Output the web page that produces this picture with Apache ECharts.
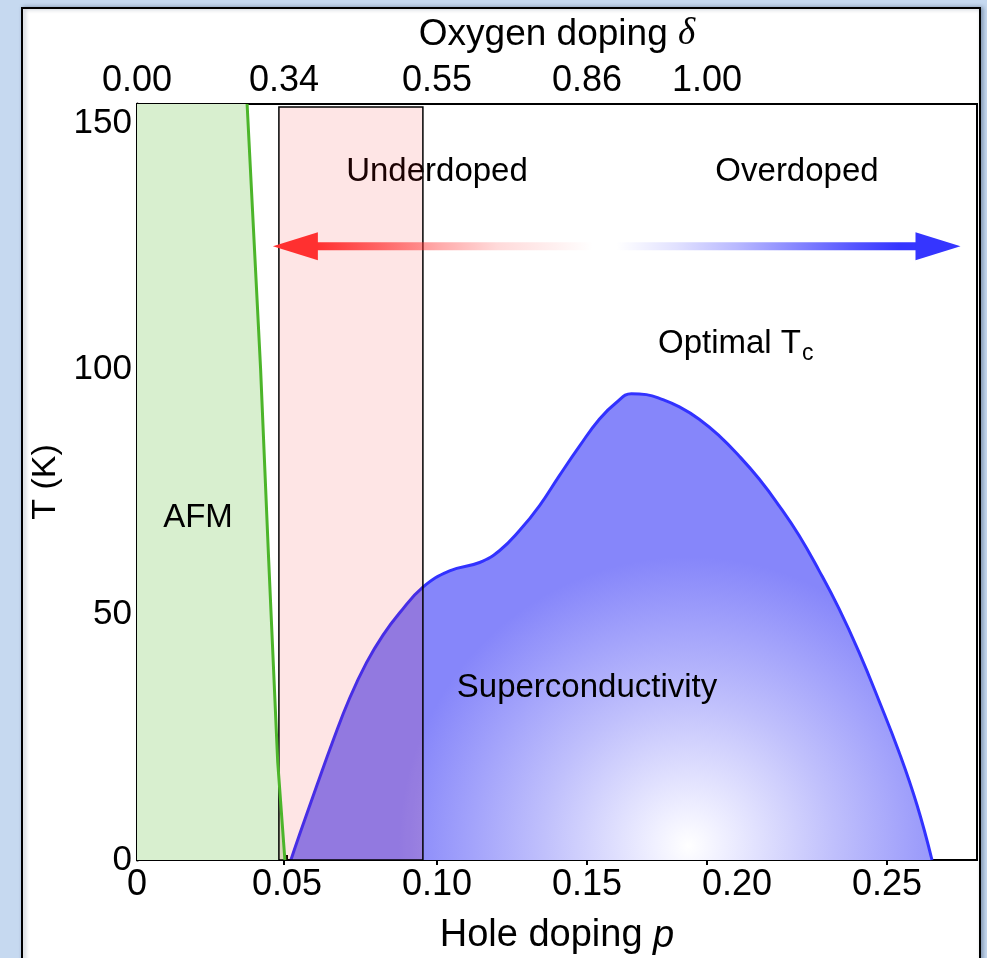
<!DOCTYPE html>
<html>
<head>
<meta charset="utf-8">
<script src="https://cdn.jsdelivr.net/npm/echarts@6/dist/echarts.min.js"></script>
<style>
  html, body { margin: 0; padding: 0; background: #c6d9f0; }
  #chart { width: 987px; height: 958px; }
</style>
</head>
<body>
<div id="chart"></div>
<script>
// Axis extents
const pMax = 0.28;
const tMax = 154;

// Bottom axis: hole doping p; left axis: temperature
const holeTicks = [0, 0.05, 0.10, 0.15, 0.20, 0.25];
const tempTicks = [0, 50, 100, 150];

// Top axis: oxygen doping delta, placed at the matching hole doping
const deltaLabels = ['0.00', '0.34', '0.55', '0.86', '1.00'];
const deltaAtP = [0, 0.049, 0.10, 0.15, 0.19];
const deltaTickP = [0.049, 0.10, 0.15, 0.19, 0.25];

// Superconducting dome Tc(p)
const domeP = [0.0513, 0.0543, 0.0598, 0.0654, 0.0709, 0.0765, 0.0820, 0.0875, 0.0953, 0.1042,
               0.1142, 0.1208, 0.1275, 0.1342, 0.1408, 0.1475, 0.1541, 0.1598, 0.1648, 0.1698,
               0.1748, 0.1808, 0.1874, 0.1941, 0.2007, 0.2074, 0.2140, 0.2207, 0.2274, 0.2340,
               0.2407, 0.2473, 0.2540, 0.2600, 0.2650];
const domeT = [0, 5.4, 14.9, 24.4, 33.0, 40.2, 45.8, 50.3, 55.6, 58.9,
               60.6, 63.0, 67.1, 72.2, 78.3, 84.3, 89.8, 93.2, 95.0, 94.8,
               93.9, 92.3, 89.8, 86.4, 82.3, 77.6, 72.2, 66.1, 58.9, 51.2,
               42.3, 32.5, 22.0, 11.2, 0];

// Antiferromagnetic boundary T_N(p)
const afmP = [0.0367, 0.0412, 0.0439, 0.0469, 0.0493];
const afmT = [154, 100, 61, 20, 0];

// Underdoped window [p0, p1] and its top temperature
const underdopedP = [0.0473, 0.0953];
const underdopedTop = 153.4;

// Doping-direction arrow: ends in p, height in T
const arrowP = [0.0453, 0.2745];
const arrowT = 125;

const FONT = '"Liberation Sans", Arial, sans-serif';

const domeData = domeP.map((p, i) => [p, domeT[i]]);
const afmLine = afmP.map((p, i) => [p, afmT[i]]);
const afmArea = [[0, tMax]].concat(afmLine);

const chart = echarts.init(document.getElementById('chart'), null, { renderer: 'canvas' });

function annotation(text, x, y, size, z, align) {
  return {
    type: 'text', x: x, y: y, z: z, silent: true,
    style: {
      text: text, fill: '#000', font: size + 'px ' + FONT,
      align: align || 'center', verticalAlign: 'middle'
    }
  };
}

const option = {
  backgroundColor: '#c6d9f0',
  animation: false,
  grid: {
    left: 137, right: 10, top: 104, bottom: 98,
    show: true, borderColor: '#000', borderWidth: 2,
    backgroundColor: 'transparent',
    containLabel: false, outerBoundsMode: 'none'
  },
  graphic: [
    {
      type: 'rect', z: -10, silent: true,
      shape: { x: 22, y: 8, width: 958, height: 1000 },
      style: { fill: '#fff', stroke: '#000', lineWidth: 2,
               shadowBlur: 4, shadowOffsetX: 2, shadowColor: 'rgba(60,80,110,0.45)' }
    },
    annotation('Underdoped', 437, 172, 33, 1),
    annotation('Overdoped', 797, 172, 33, 10),
    annotation('Optimal T', 658, 344, 33, 10, 'left'),
    annotation('c', 802, 354, 23, 10, 'left'),
    annotation('AFM', 198, 518, 33, 10),
    annotation('Superconductivity', 587, 688, 33, 10)
  ],
  xAxis: [
    {
      type: 'value', position: 'bottom', min: 0, max: pMax,
      axisLine: { show: true, lineStyle: { color: '#000', width: 2 } },
      axisTick: { show: true, inside: true, length: 5, customValues: holeTicks.slice(1),
                  lineStyle: { color: '#000', width: 2 } },
      axisLabel: {
        customValues: holeTicks, margin: 7, color: '#000', fontSize: 36, fontFamily: FONT,
        formatter: v => (v === 0 ? '0' : v.toFixed(2))
      },
      splitLine: { show: false },
      name: 'Hole doping {i|p}', nameLocation: 'middle', nameGap: 57,
      nameTextStyle: {
        color: '#000', fontSize: 38, fontFamily: FONT,
        rich: { i: { fontSize: 38, fontFamily: FONT, fontStyle: 'italic', color: '#000' } }
      }
    },
    {
      type: 'value', position: 'top', min: 0, max: pMax,
      axisLine: { show: true, lineStyle: { color: '#000', width: 2 } },
      axisTick: { show: true, inside: true, length: 5, customValues: deltaTickP,
                  lineStyle: { color: '#000', width: 2 } },
      axisLabel: {
        customValues: deltaAtP, margin: 5, color: '#000', fontSize: 36, fontFamily: FONT,
        formatter: v => {
          let best = 0;
          deltaAtP.forEach((p, i) => { if (Math.abs(p - v) < Math.abs(deltaAtP[best] - v)) best = i; });
          return deltaLabels[best];
        }
      },
      splitLine: { show: false },
      name: 'Oxygen doping {d|δ}', nameLocation: 'middle', nameGap: 51,
      nameTextStyle: {
        color: '#000', fontSize: 37, fontFamily: FONT,
        rich: { d: { fontSize: 37, fontFamily: '"Liberation Serif", serif', fontStyle: 'italic', color: '#000' } }
      }
    }
  ],
  yAxis: [
    {
      type: 'value', position: 'left', min: 0, max: tMax,
      axisLine: { show: true, lineStyle: { color: '#000', width: 2 } },
      axisTick: { show: true, inside: true, length: 5, customValues: tempTicks,
                  lineStyle: { color: '#000', width: 2 } },
      axisLabel: {
        customValues: tempTicks, margin: 5, color: '#000', fontSize: 35, fontFamily: FONT
      },
      splitLine: { show: false },
      name: 'T (K)', nameLocation: 'middle', nameGap: 69,
      nameTextStyle: { color: '#000', fontSize: 34, fontFamily: FONT }
    },
    {
      type: 'value', position: 'right', min: 0, max: tMax,
      axisLine: { show: true, lineStyle: { color: '#000', width: 3 } },
      axisTick: { show: false }, axisLabel: { show: false }, splitLine: { show: false }
    }
  ],
  series: [
    {
      // AFM region: everything left of the Neel line
      type: 'line', z: 1, silent: true, xAxisIndex: 0, yAxisIndex: 0,
      data: afmArea, symbol: 'none',
      lineStyle: { width: 0 },
      areaStyle: { color: '#d8efcf', opacity: 1 }
    },
    {
      // Superconducting dome
      type: 'line', z: 2, silent: true, xAxisIndex: 0, yAxisIndex: 0,
      data: domeData, symbol: 'none', smooth: 0.45,
      lineStyle: { color: '#3232ff', width: 3 },
      areaStyle: {
        opacity: 1,
        color: {
          type: 'radial', x: 0.62, y: 0.97, r: 0.62,
          colorStops: [
            { offset: 0, color: '#ffffff' },
            { offset: 0.12, color: '#f0f0ff' },
            { offset: 0.5, color: '#c0c0fc' },
            { offset: 1, color: '#8686fa' }
          ]
        }
      }
    },
    {
      // Underdoped window, tinted over what lies beneath
      type: 'custom', z: 3, silent: true, xAxisIndex: 0, yAxisIndex: 0,
      data: [[underdopedP[0], underdopedP[1], underdopedTop]],
      renderItem: (params, api) => {
        const a = api.coord([api.value(0), 0]);
        const b = api.coord([api.value(1), api.value(2)]);
        return {
          type: 'rect',
          shape: { x: a[0], y: b[1], width: b[0] - a[0], height: a[1] - b[1] },
          style: { fill: 'rgba(250,20,20,0.11)', stroke: '#000', lineWidth: 1.5 }
        };
      }
    },
    {
      // Neel line
      type: 'line', z: 4, silent: true, xAxisIndex: 0, yAxisIndex: 0,
      data: afmLine, symbol: 'none',
      lineStyle: { color: '#4cb52a', width: 3 }
    },
    {
      // Doping-direction arrow
      type: 'custom', z: 4, silent: true, xAxisIndex: 0, yAxisIndex: 0,
      data: [[arrowP[0], arrowP[1], arrowT]],
      renderItem: (params, api) => {
        const a = api.coord([api.value(0), api.value(2)]);
        const b = api.coord([api.value(1), api.value(2)]);
        const y = a[1], x0 = a[0], x1 = b[0];
        const head = 45, half = 14, shaft = 4;
        const grad = new echarts.graphic.LinearGradient(0, 0, 1, 0, [
          { offset: 0, color: 'rgba(255,48,48,1)' },
          { offset: 0.1, color: 'rgba(255,48,48,0.72)' },
          { offset: 0.2, color: 'rgba(255,48,48,0.42)' },
          { offset: 0.3, color: 'rgba(255,48,48,0.18)' },
          { offset: 0.46, color: 'rgba(255,48,48,0)' },
          { offset: 0.5, color: 'rgba(53,53,255,0)' },
          { offset: 0.6, color: 'rgba(53,53,255,0.15)' },
          { offset: 0.7, color: 'rgba(53,53,255,0.35)' },
          { offset: 0.8, color: 'rgba(53,53,255,0.6)' },
          { offset: 0.9, color: 'rgba(53,53,255,0.85)' },
          { offset: 0.97, color: 'rgba(53,53,255,1)' },
          { offset: 1, color: 'rgba(53,53,255,1)' }
        ]);
        return {
          type: 'group',
          children: [
            { type: 'rect', shape: { x: x0 + head - 1, y: y - shaft, width: x1 - x0 - 2 * head + 2, height: 2 * shaft },
              style: { fill: grad } },
            { type: 'polygon', shape: { points: [[x0, y], [x0 + head, y - half], [x0 + head, y + half]] },
              style: { fill: '#ff3030' } },
            { type: 'polygon', shape: { points: [[x1, y], [x1 - head, y - half], [x1 - head, y + half]] },
              style: { fill: '#3535ff' } }
          ]
        };
      }
    }
  ]
};

chart.setOption(option);
</script>
</body>
</html>
